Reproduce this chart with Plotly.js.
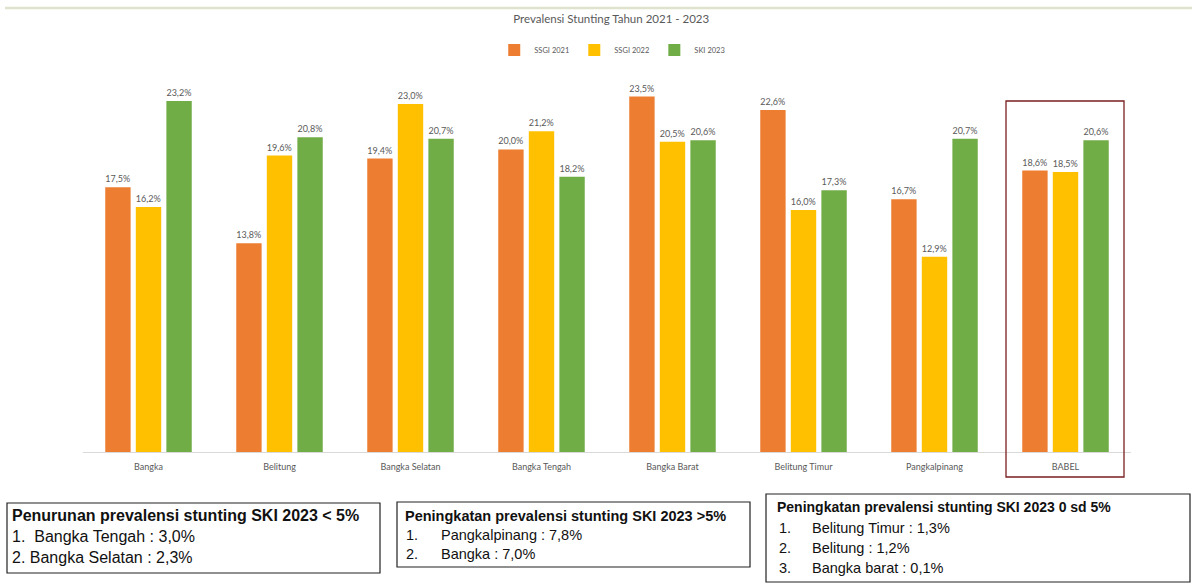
<!DOCTYPE html>
<html>
<head>
<meta charset="utf-8">
<script src="https://cdn.plot.ly/plotly-3.0.1.min.js"></script>
<style>
  html, body { margin: 0; padding: 0; background: #ffffff; }
  #chart { width: 1192px; height: 586px; }
</style>
</head>
<body>
<div id="chart"></div>
<script>
const categories = ["Bangka", "Belitung", "Bangka Selatan", "Bangka Tengah", "Bangka Barat", "Belitung Timur", "Pangkalpinang", "BABEL"];
const seriesNames = ["SSGI 2021", "SSGI 2022", "SKI 2023"];
const ssgi2021 = [17.5, 13.8, 19.4, 20.0, 23.5, 22.6, 16.7, 18.6];
const ssgi2022 = [16.2, 19.6, 23.0, 21.2, 20.5, 16.0, 12.9, 18.5];
const ski2023 = [23.2, 20.8, 20.7, 18.2, 20.6, 17.3, 20.7, 20.6];
const colors = ["#ED7D31", "#FFC000", "#70AD47"];

const chartTitle = "Prevalensi Stunting Tahun 2021 - 2023";

const box1Title = "Penurunan prevalensi stunting SKI 2023 < 5%";
const box1Items = ["1.  Bangka Tengah : 3,0%", "2. Bangka Selatan : 2,3%"];
const box2Title = "Peningkatan prevalensi stunting SKI 2023 >5%";
const box2Nums = ["1.", "2."];
const box2Items = ["Pangkalpinang : 7,8%", "Bangka : 7,0%"];
const box3Title = "Peningkatan prevalensi stunting SKI 2023 0 sd 5%";
const box3Nums = ["1.", "2.", "3."];
const box3Items = ["Belitung Timur : 1,3%", "Belitung : 1,2%", "Bangka barat : 0,1%"];

const W = 1192, H = 586;
const ML = 83, MR = 61, MT = 80, MB = 134;
const PW = W - ML - MR, PH = H - MT - MB;
// pixel -> paper helpers (for decorations only)
const px = v => (v - ML) / PW;
const py = v => (H - MB - v) / PH;

const chartFont = "Lato, 'Open Sans', sans-serif";
const allSeries = [ssgi2021, ssgi2022, ski2023];
const traces = allSeries.map((vals, i) => ({
  type: "bar",
  name: seriesNames[i],
  x: categories,
  y: vals,
  marker: { color: colors[i] },
  texttemplate: "%{y:.1f}%",
  textposition: "outside",
  textfont: { family: chartFont, size: 9.5, color: "#595959" },
  cliponaxis: false,
  hoverinfo: "x+y+name"
}));

const textFont = "'Liberation Sans', Arial, sans-serif";
const annotations = [];
const shapes = [];

function addText(x, y, text, bold, size) {
  annotations.push({
    xref: "paper", yref: "paper",
    x: px(x), y: py(y),
    xanchor: "left", yanchor: "middle",
    showarrow: false,
    text: bold ? "<b>" + text + "</b>" : text,
    font: { family: textFont, size: size, color: "#111111" }
  });
}
function addBox(x0, y0, x1, y1, color, width) {
  shapes.push({
    type: "rect", xref: "paper", yref: "paper",
    x0: px(x0), x1: px(x1), y0: py(y1), y1: py(y0),
    line: { color: color, width: width }, fillcolor: "rgba(0,0,0,0)"
  });
}

// top strip line
shapes.push({ type: "line", xref: "paper", yref: "paper", x0: px(5), x1: px(1192), y0: py(8), y1: py(8),
  line: { color: "#dfe2cc", width: 2.5 } });

// red highlight box around BABEL
addBox(1006, 101, 1124, 477, "#7a1f1f", 1.3);

// box 1
addBox(7, 503, 380, 573, "#222222", 1.2);
addText(10, 515, box1Title, true, 16);
box1Items.forEach((t, i) => addText(10, 536 + i * 21, t, false, 16));

// box 2
addBox(397, 502, 750, 567, "#222222", 1.2);
addText(403, 516, box2Title, true, 14.5);
box2Nums.forEach((t, i) => addText(404, 535 + i * 19, t, false, 14.5));
box2Items.forEach((t, i) => addText(439, 535 + i * 19, t, false, 14.5));

// box 3
addBox(766, 494, 1190, 582, "#222222", 1.2);
addText(775, 507, box3Title, true, 14);
box3Nums.forEach((t, i) => addText(777, 528 + i * 20, t, false, 14.5));
box3Items.forEach((t, i) => addText(810, 528 + i * 20, t, false, 14.5));

const layout = {
  width: W, height: H,
  margin: { l: ML, r: MR, t: MT, b: MB, pad: 0 },
  paper_bgcolor: "#ffffff",
  plot_bgcolor: "#ffffff",
  separators: ",.",
  barmode: "group",
  bargap: 0.3,
  bargroupgap: 0.17,
  title: {
    text: chartTitle,
    font: { family: chartFont, size: 11.5, color: "#595959" },
    xref: "paper", x: 0.504, xanchor: "center",
    yref: "container", y: 1 - 19 / H, yanchor: "middle"
  },
  showlegend: true,
  legend: {
    orientation: "h",
    xref: "paper", yref: "paper",
    x: 0.505, xanchor: "center",
    y: py(50), yanchor: "middle",
    font: { family: chartFont, size: 7.5, color: "#595959" },
    itemwidth: 30,
    tracegroupgap: 0
  },
  xaxis: {
    type: "category",
    showline: true, linecolor: "#d9d9d9", linewidth: 1,
    ticks: "", showgrid: false, zeroline: false,
    tickfont: { family: chartFont, size: 9, color: "#595959" },
    ticklabelstandoff: 6
  },
  yaxis: {
    range: [0, PH / 15.13],
    visible: false, showgrid: false, zeroline: false
  },
  shapes: shapes,
  annotations: annotations
};

Plotly.newPlot("chart", traces, layout, { displayModeBar: false, staticPlot: true });
</script>
</body>
</html>
